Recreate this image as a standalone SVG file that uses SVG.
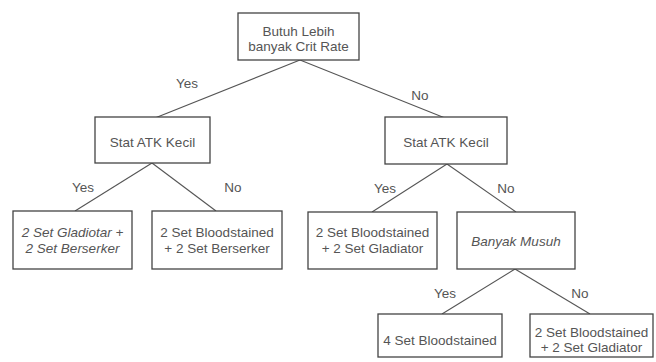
<svg xmlns="http://www.w3.org/2000/svg" width="656" height="362" viewBox="0 0 656 362">
<style>
.box{fill:#fff;stroke:#444;stroke-width:1.3}
.t{font-family:"Liberation Sans",Arial,sans-serif;font-size:13.5px;fill:#555;text-anchor:middle}
.i{font-style:italic}
.c{stroke:#555;stroke-width:1.1;fill:none}
</style>
<rect width="656" height="362" fill="#fff"/>
<g id="connectors">
<path class="c" d="M300 60 L155 118"/>
<path class="c" d="M300 60 L445 118"/>
<path class="c" d="M152 163 L75 211"/>
<path class="c" d="M152 163 L216 211"/>
<path class="c" d="M447 164 L372 212"/>
<path class="c" d="M447 164 L516 212"/>
<path class="c" d="M515 269 L442 314"/>
<path class="c" d="M515 269 L590 314"/>
<text class="t" x="187" y="88">Yes</text>
<text class="t" x="420" y="100">No</text>
<text class="t" x="83" y="192">Yes</text>
<text class="t" x="233" y="192">No</text>
<text class="t" x="385" y="193">Yes</text>
<text class="t" x="506" y="193">No</text>
<text class="t" x="445" y="298">Yes</text>
<text class="t" x="580" y="298">No</text>
</g>
<g id="root">
<rect class="box" x="238" y="13" width="121" height="47"/>
<text class="t" x="298.5" y="36">Butuh Lebih</text>
<text class="t" x="298.5" y="51">banyak Crit Rate</text>
</g>
<g id="statL">
<rect class="box" x="95" y="117" width="115" height="46"/>
<text class="t" x="152.5" y="147">Stat ATK Kecil</text>
</g>
<g id="statR">
<rect class="box" x="385" y="117" width="122" height="47"/>
<text class="t" x="446" y="147">Stat ATK Kecil</text>
</g>
<g id="leaf1">
<rect class="box" x="13" y="211" width="119" height="58"/>
<text class="t i" x="72.5" y="237">2 Set Gladiotar +</text>
<text class="t i" x="72.5" y="253">2 Set Berserker</text>
</g>
<g id="leaf2">
<rect class="box" x="152" y="211" width="130" height="58"/>
<text class="t" x="217" y="237">2 Set Bloodstained</text>
<text class="t" x="217" y="253">+ 2 Set Berserker</text>
</g>
<g id="leaf3">
<rect class="box" x="308" y="212" width="129" height="57"/>
<text class="t" x="372.5" y="237">2 Set Bloodstained</text>
<text class="t" x="372.5" y="253">+ 2 Set Gladiator</text>
</g>
<g id="musuh">
<rect class="box" x="457" y="212" width="118" height="57"/>
<text class="t i" x="516" y="246">Banyak Musuh</text>
</g>
<g id="leaf4">
<rect class="box" x="378" y="314" width="124" height="43"/>
<text class="t" x="440" y="345">4 Set Bloodstained</text>
</g>
<g id="leaf5">
<rect class="box" x="530" y="314" width="123" height="43"/>
<text class="t" x="591.5" y="337">2 Set Bloodstained</text>
<text class="t" x="591.5" y="352">+ 2 Set Gladiator</text>
</g>
</svg>
